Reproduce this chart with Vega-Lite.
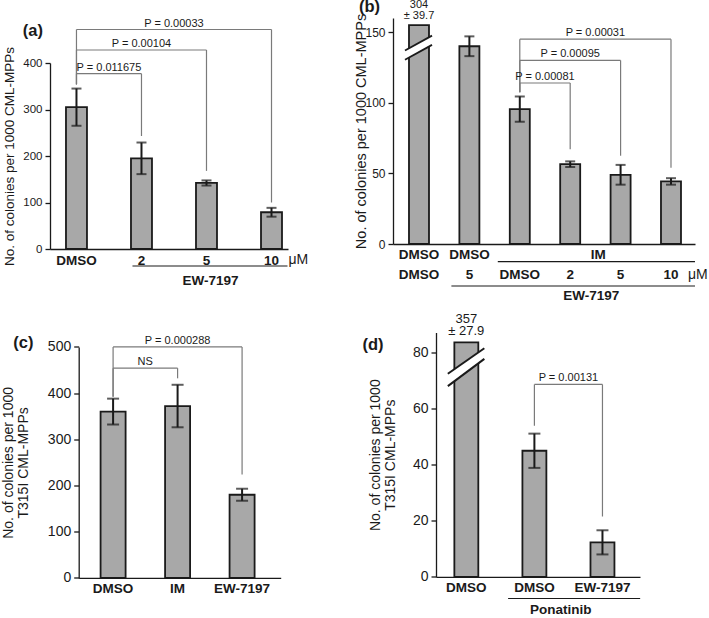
{
  "$schema": "https://vega.github.io/schema/vega-lite/v6.json",
  "padding": {"left": 1, "top": -2, "right": 0, "bottom": 0},
  "background": "white",
  "config": {
    "font": "Liberation Sans",
    "view": {"stroke": null},
    "axis": {"grid": false, "domainColor": "#1a1a1a", "domainWidth": 1.3, "tickColor": "#1a1a1a", "tickWidth": 1.3, "labelColor": "#1a1a1a", "titleColor": "#1a1a1a", "titleFontWeight": "normal"},
    "axisX": {"ticks": false, "labelAngle": 0, "labelFontWeight": "bold", "labelFontSize": 13.5, "labelPadding": 4},
    "axisY": {"tickSize": 5, "labelPadding": 3},
    "title": {"anchor": "start", "frame": "bounds", "fontSize": 16.5, "fontWeight": "bold", "color": "#1a1a1a"},
    "text": {"color": "#1a1a1a"}
  },
  "spacing": 9.5,
  "vconcat": [
    {
      "spacing": 44,
      "hconcat": [
        {
          "title": {"text": "(a)", "dx": 20, "dy": 26},
          "width": 238,
          "height": 231,
          "data": {"values": [
            {"c": "DMSO", "v": 305, "e": 40},
            {"c": "2", "v": 195, "e": 34},
            {"c": "5", "v": 142, "e": 5.5},
            {"c": "10", "v": 79, "e": 9.5}
          ]},
          "layer": [
            {"mark": {"type": "bar", "fill": "#a8a8a8", "stroke": "#1a1a1a", "strokeWidth": 1.8},
             "encoding": {
               "x": {"field": "c", "type": "nominal", "title": null, "scale": {"domain": ["DMSO", "2", "5", "10"], "paddingInner": 0.677, "paddingOuter": 0.169, "align": 0.727}},
               "y": {"field": "v", "type": "quantitative", "title": "No. of colonies per 1000 CML-MPPs", "scale": {"domain": [0, 400], "nice": false, "range": [231, 45]}, "axis": {"values": [0, 100, 200, 300, 400], "labelFontSize": 11.5, "titleFontSize": 13.5, "titlePadding": 6}}
             }},
            {"mark": {"type": "errorbar", "ticks": true, "size": 10, "thickness": 2, "color": "#1a1a1a"},
             "encoding": {"x": {"field": "c", "type": "nominal", "title": null}, "y": {"field": "v", "type": "quantitative", "title": "No. of colonies per 1000 CML-MPPs"}, "yError": {"field": "e"}}},
            {"data": {"values": [
              {"from": "DMSO", "to": "2", "top": 377, "lf": 354, "rf": 243, "lab": "P = 0.011675", "at": "DMSO", "half": true},
              {"from": "DMSO", "to": "5", "top": 428, "lf": 354, "rf": 168, "lab": "P = 0.00104", "at": "2", "half": false},
              {"from": "DMSO", "to": "10", "top": 472, "lf": 354, "rf": 100, "lab": "P = 0.00033", "at": "2", "half": true}
             ]},
             "layer": [
               {"mark": {"type": "rule", "color": "#7a7a7a", "strokeWidth": 1.2}, "encoding": {"x": {"field": "from", "type": "nominal", "title": null}, "x2": {"field": "to"}, "y": {"field": "top", "type": "quantitative", "title": "No. of colonies per 1000 CML-MPPs"}}},
               {"mark": {"type": "rule", "color": "#7a7a7a", "strokeWidth": 1.2}, "encoding": {"x": {"field": "from", "type": "nominal", "title": null}, "y": {"field": "lf", "type": "quantitative", "title": "No. of colonies per 1000 CML-MPPs"}, "y2": {"field": "top"}}},
               {"mark": {"type": "rule", "color": "#7a7a7a", "strokeWidth": 1.2}, "encoding": {"x": {"field": "to", "type": "nominal", "title": null}, "y": {"field": "rf", "type": "quantitative", "title": "No. of colonies per 1000 CML-MPPs"}, "y2": {"field": "top"}}},
               {"transform": [{"filter": "!datum.half"}], "mark": {"type": "text", "dy": -3, "fontSize": 11, "baseline": "alphabetic"}, "encoding": {"x": {"field": "at", "type": "nominal", "title": null}, "y": {"field": "top", "type": "quantitative", "title": "No. of colonies per 1000 CML-MPPs"}, "text": {"field": "lab"}}},
               {"transform": [{"filter": "datum.half"}], "mark": {"type": "text", "dx": 32.5, "dy": -3, "fontSize": 11, "baseline": "alphabetic"}, "encoding": {"x": {"field": "at", "type": "nominal", "title": null}, "y": {"field": "top", "type": "quantitative", "title": "No. of colonies per 1000 CML-MPPs"}, "text": {"field": "lab"}}}
             ]},
            {"data": {"values": [{"c1": "2", "c2": "10"}]},
             "mark": {"type": "rule", "yOffset": 17, "xOffset": -9, "x2Offset": 16, "color": "#1a1a1a", "strokeWidth": 1.2},
             "encoding": {"x": {"field": "c1", "type": "nominal", "title": null}, "x2": {"field": "c2"}, "y": {"datum": 0}}},
            {"data": {"values": [{"c": "5", "t": "EW-7197"}]},
             "mark": {"type": "text", "dx": 4, "dy": 36, "fontWeight": "bold", "fontSize": 13.5, "baseline": "alphabetic"},
             "encoding": {"x": {"field": "c", "type": "nominal", "title": null}, "y": {"datum": 0}, "text": {"field": "t"}}},
            {"data": {"values": [{"c": "10", "t": "μM"}]},
             "mark": {"type": "text", "align": "left", "dx": 17, "dy": 15, "fontSize": 14, "baseline": "alphabetic"},
             "encoding": {"x": {"field": "c", "type": "nominal", "title": null}, "y": {"datum": 0}, "text": {"field": "t"}}}
          ]
        },
        {
          "title": {"text": "(b)", "dx": 5, "dy": 20},
          "width": 302,
          "height": 226,
          "data": {"values": [
            {"c": "b1", "r1": "DMSO", "r2": "DMSO", "h": 155, "note": "304\n± 39.7"},
            {"c": "b2", "r1": "DMSO", "r2": "5", "h": 140, "v": 140, "e": 7},
            {"c": "b3", "r1": "", "r2": "DMSO", "h": 95.5, "v": 95.5, "e": 9},
            {"c": "b4", "r1": "", "r2": "2", "h": 56.5, "v": 56.5, "e": 2},
            {"c": "b5", "r1": "", "r2": "5", "h": 49, "v": 49, "e": 7},
            {"c": "b6", "r1": "", "r2": "10", "h": 44.3, "v": 44.3, "e": 2.3}
          ]},
          "layer": [
            {"mark": {"type": "bar", "fill": "#a8a8a8", "stroke": "#1a1a1a", "strokeWidth": 1.8},
             "encoding": {
               "x": {"field": "c", "type": "nominal", "title": null, "scale": {"domain": ["b1", "b2", "b3", "b4", "b5", "b6"], "paddingInner": 0.603, "paddingOuter": 0.2976, "align": 0.533}, "axis": {"labels": false}},
               "y": {"field": "h", "type": "quantitative", "title": "No. of colonies per 1000 CML-MPPs", "scale": {"domain": [0, 160], "nice": false}, "axis": {"values": [0, 50, 100, 150], "labelFontSize": 12, "titleFontSize": 14.5, "titlePadding": -4}}
             }},
            {"transform": [{"filter": "isValid(datum.e)"}],
             "mark": {"type": "errorbar", "ticks": true, "size": 10, "thickness": 2, "color": "#1a1a1a"},
             "encoding": {"x": {"field": "c", "type": "nominal", "title": null}, "y": {"field": "v", "type": "quantitative", "title": "No. of colonies per 1000 CML-MPPs"}, "yError": {"field": "e"}}},
            {"transform": [{"filter": "isValid(datum.note)"}],
             "mark": {"type": "text", "dy": -15, "fontSize": 11, "baseline": "bottom", "lineBreak": "\n", "lineHeight": 10.5},
             "encoding": {"x": {"field": "c", "type": "nominal", "title": null}, "y": {"field": "h", "type": "quantitative", "title": "No. of colonies per 1000 CML-MPPs"}, "text": {"field": "note"}}},
            {"data": {"values": [{"c": "b1", "lo1": 137, "hi1": 147.5, "lo2": 130.5, "hi2": 141, "lom": 133.7, "him": 144.3}]},
             "layer": [
               {"mark": {"type": "rule", "color": "white", "strokeWidth": 8, "xOffset": -14, "x2Offset": 13}, "encoding": {"x": {"field": "c", "type": "nominal", "title": null}, "x2": {"field": "c"}, "y": {"field": "lom", "type": "quantitative", "title": "No. of colonies per 1000 CML-MPPs"}, "y2": {"field": "him"}}},
               {"mark": {"type": "rule", "color": "#1a1a1a", "strokeWidth": 1.8, "xOffset": -14, "x2Offset": 13}, "encoding": {"x": {"field": "c", "type": "nominal", "title": null}, "x2": {"field": "c"}, "y": {"field": "lo1", "type": "quantitative", "title": "No. of colonies per 1000 CML-MPPs"}, "y2": {"field": "hi1"}}},
               {"mark": {"type": "rule", "color": "#1a1a1a", "strokeWidth": 1.8, "xOffset": -14, "x2Offset": 13}, "encoding": {"x": {"field": "c", "type": "nominal", "title": null}, "x2": {"field": "c"}, "y": {"field": "lo2", "type": "quantitative", "title": "No. of colonies per 1000 CML-MPPs"}, "y2": {"field": "hi2"}}}
             ]},
            {"data": {"values": [
              {"from": "b3", "to": "b4", "top": 114, "lf": 107.5, "rf": 67, "lab": "P = 0.00081", "at": "b3", "half": true},
              {"from": "b3", "to": "b5", "top": 130, "lf": 107.5, "rf": 62.5, "lab": "P = 0.00095", "at": "b4", "half": false},
              {"from": "b3", "to": "b6", "top": 145, "lf": 107.5, "rf": 54, "lab": "P = 0.00031", "at": "b4", "half": true}
             ]},
             "layer": [
               {"mark": {"type": "rule", "color": "#7a7a7a", "strokeWidth": 1.2}, "encoding": {"x": {"field": "from", "type": "nominal", "title": null}, "x2": {"field": "to"}, "y": {"field": "top", "type": "quantitative", "title": "No. of colonies per 1000 CML-MPPs"}}},
               {"mark": {"type": "rule", "color": "#7a7a7a", "strokeWidth": 1.2}, "encoding": {"x": {"field": "from", "type": "nominal", "title": null}, "y": {"field": "lf", "type": "quantitative", "title": "No. of colonies per 1000 CML-MPPs"}, "y2": {"field": "top"}}},
               {"mark": {"type": "rule", "color": "#7a7a7a", "strokeWidth": 1.2}, "encoding": {"x": {"field": "to", "type": "nominal", "title": null}, "y": {"field": "rf", "type": "quantitative", "title": "No. of colonies per 1000 CML-MPPs"}, "y2": {"field": "top"}}},
               {"transform": [{"filter": "!datum.half"}], "mark": {"type": "text", "dy": -3, "fontSize": 11, "baseline": "alphabetic"}, "encoding": {"x": {"field": "at", "type": "nominal", "title": null}, "y": {"field": "top", "type": "quantitative", "title": "No. of colonies per 1000 CML-MPPs"}, "text": {"field": "lab"}}},
               {"transform": [{"filter": "datum.half"}], "mark": {"type": "text", "dx": 25.2, "dy": -3, "fontSize": 11, "baseline": "alphabetic"}, "encoding": {"x": {"field": "at", "type": "nominal", "title": null}, "y": {"field": "top", "type": "quantitative", "title": "No. of colonies per 1000 CML-MPPs"}, "text": {"field": "lab"}}}
             ]},
            {"mark": {"type": "text", "dy": 15, "fontWeight": "bold", "fontSize": 13.5, "baseline": "alphabetic"},
             "encoding": {"x": {"field": "c", "type": "nominal", "title": null}, "y": {"datum": 0}, "text": {"field": "r1"}}},
            {"mark": {"type": "text", "dy": 35, "fontWeight": "bold", "fontSize": 13.5, "baseline": "alphabetic"},
             "encoding": {"x": {"field": "c", "type": "nominal", "title": null}, "y": {"datum": 0}, "text": {"field": "r2"}}},
            {"data": {"values": [{"c1": "b3", "c2": "b6"}]},
             "mark": {"type": "rule", "yOffset": 17.7, "xOffset": -22, "x2Offset": 24, "color": "#1a1a1a", "strokeWidth": 1.2},
             "encoding": {"x": {"field": "c1", "type": "nominal", "title": null}, "x2": {"field": "c2"}, "y": {"datum": 0}}},
            {"data": {"values": [{"c1": "b2", "c2": "b6"}]},
             "mark": {"type": "rule", "yOffset": 42, "xOffset": -18, "x2Offset": 24, "color": "#1a1a1a", "strokeWidth": 1.2},
             "encoding": {"x": {"field": "c1", "type": "nominal", "title": null}, "x2": {"field": "c2"}, "y": {"datum": 0}}},
            {"data": {"values": [{"c": "b4", "t": "IM"}]},
             "mark": {"type": "text", "dx": 28, "dy": 15, "fontWeight": "bold", "fontSize": 13.5, "baseline": "alphabetic"},
             "encoding": {"x": {"field": "c", "type": "nominal", "title": null}, "y": {"datum": 0}, "text": {"field": "t"}}},
            {"data": {"values": [{"c": "b4", "t": "EW-7197"}]},
             "mark": {"type": "text", "dx": 21, "dy": 56, "fontWeight": "bold", "fontSize": 13.5, "baseline": "alphabetic"},
             "encoding": {"x": {"field": "c", "type": "nominal", "title": null}, "y": {"datum": 0}, "text": {"field": "t"}}},
            {"data": {"values": [{"c": "b6", "t": "μM"}]},
             "mark": {"type": "text", "align": "left", "dx": 17, "dy": 35, "fontSize": 14, "baseline": "alphabetic"},
             "encoding": {"x": {"field": "c", "type": "nominal", "title": null}, "y": {"datum": 0}, "text": {"field": "t"}}}
          ]
        }
      ]
    },
    {
      "spacing": 81,
      "hconcat": [
        {
          "title": {"text": "(c)", "dx": 12, "dy": 23},
          "width": 230.7,
          "height": 245.4,
          "data": {"values": [
            {"c": "DMSO", "v": 360, "e": 28},
            {"c": "IM", "v": 372, "e": 46},
            {"c": "EW-7197", "v": 180, "e": 13}
          ]},
          "layer": [
            {"mark": {"type": "bar", "fill": "#a8a8a8", "stroke": "#1a1a1a", "strokeWidth": 1.8},
             "encoding": {
               "x": {"field": "c", "type": "nominal", "title": null, "scale": {"domain": ["DMSO", "IM", "EW-7197"], "paddingInner": 0.612, "paddingOuter": 0.372, "align": 0.456, "range": [28.7, 230.7]}},
               "y": {"field": "v", "type": "quantitative", "title": ["No. of colonies per 1000", "T315I CML-MPPs"], "scale": {"domain": [0, 500], "nice": false, "range": [245.4, 14.4]}, "axis": {"values": [0, 100, 200, 300, 400, 500], "offset": -28.7, "labelFontSize": 14, "titleFontSize": 14, "titleLineHeight": 15, "titlePadding": 17}}
             }},
            {"mark": {"type": "errorbar", "ticks": true, "size": 12, "thickness": 2, "color": "#1a1a1a"},
             "encoding": {"x": {"field": "c", "type": "nominal", "title": null}, "y": {"field": "v", "type": "quantitative", "title": ["No. of colonies per 1000", "T315I CML-MPPs"]}, "yError": {"field": "e"}}},
            {"data": {"values": [
              {"from": "DMSO", "to": "IM", "top": 454, "lf": 392, "rf": 432, "lab": "NS", "at": "DMSO", "half": true},
              {"from": "DMSO", "to": "EW-7197", "top": 500, "lf": 392, "rf": 224, "lab": "P = 0.000288", "at": "IM", "half": false}
             ]},
             "layer": [
               {"mark": {"type": "rule", "color": "#7a7a7a", "strokeWidth": 1.2}, "encoding": {"x": {"field": "from", "type": "nominal", "title": null}, "x2": {"field": "to"}, "y": {"field": "top", "type": "quantitative", "title": ["No. of colonies per 1000", "T315I CML-MPPs"]}}},
               {"mark": {"type": "rule", "color": "#7a7a7a", "strokeWidth": 1.2}, "encoding": {"x": {"field": "from", "type": "nominal", "title": null}, "y": {"field": "lf", "type": "quantitative", "title": ["No. of colonies per 1000", "T315I CML-MPPs"]}, "y2": {"field": "top"}}},
               {"mark": {"type": "rule", "color": "#7a7a7a", "strokeWidth": 1.2}, "encoding": {"x": {"field": "to", "type": "nominal", "title": null}, "y": {"field": "rf", "type": "quantitative", "title": ["No. of colonies per 1000", "T315I CML-MPPs"]}, "y2": {"field": "top"}}},
               {"transform": [{"filter": "!datum.half"}], "mark": {"type": "text", "dy": -3, "fontSize": 11, "baseline": "alphabetic"}, "encoding": {"x": {"field": "at", "type": "nominal", "title": null}, "y": {"field": "top", "type": "quantitative", "title": ["No. of colonies per 1000", "T315I CML-MPPs"]}, "text": {"field": "lab"}}},
               {"transform": [{"filter": "datum.half"}], "mark": {"type": "text", "dx": 32, "dy": -3, "fontSize": 11, "baseline": "alphabetic"}, "encoding": {"x": {"field": "at", "type": "nominal", "title": null}, "y": {"field": "top", "type": "quantitative", "title": ["No. of colonies per 1000", "T315I CML-MPPs"]}, "text": {"field": "lab"}}}
             ]}
          ]
        },
        {
          "title": {"text": "(d)", "dx": -6, "dy": 44},
          "width": 204,
          "height": 244.4,
          "data": {"values": [
            {"c": "d1", "h": 83.5, "note": "357\n± 27.9"},
            {"c": "d2", "h": 44.9, "v": 44.9, "e": 6.1},
            {"c": "d3", "h": 12.3, "v": 12.3, "e": 4.3}
          ]},
          "layer": [
            {"mark": {"type": "bar", "fill": "#a8a8a8", "stroke": "#1a1a1a", "strokeWidth": 1.8},
             "encoding": {
               "x": {"field": "c", "type": "nominal", "title": null, "scale": {"domain": ["d1", "d2", "d3"], "paddingInner": 0.648, "paddingOuter": 0.3226, "align": 0.418}, "axis": {"labelExpr": "datum.value == 'd3' ? 'EW-7197' : 'DMSO'"}},
               "y": {"field": "h", "type": "quantitative", "title": ["No. of colonies per 1000", "T315I CML-MPPs"], "scale": {"domain": [0, 87], "nice": false}, "axis": {"values": [0, 20, 40, 60, 80], "labelFontSize": 14, "titleFontSize": 14, "titleLineHeight": 15, "titlePadding": 15}}
             }},
            {"transform": [{"filter": "isValid(datum.e)"}],
             "mark": {"type": "errorbar", "ticks": true, "size": 12, "thickness": 2, "color": "#1a1a1a"},
             "encoding": {"x": {"field": "c", "type": "nominal", "title": null}, "y": {"field": "v", "type": "quantitative", "title": ["No. of colonies per 1000", "T315I CML-MPPs"]}, "yError": {"field": "e"}}},
            {"transform": [{"filter": "isValid(datum.note)"}],
             "mark": {"type": "text", "dy": -16, "fontSize": 13, "baseline": "bottom", "lineBreak": "\n", "lineHeight": 12},
             "encoding": {"x": {"field": "c", "type": "nominal", "title": null}, "y": {"field": "h", "type": "quantitative", "title": ["No. of colonies per 1000", "T315I CML-MPPs"]}, "text": {"field": "note"}}},
            {"data": {"values": [{"c": "d1", "lo1": 72.3, "hi1": 81.4, "lo2": 67.9, "hi2": 77.6, "lom": 70.1, "him": 79.5}]},
             "layer": [
               {"mark": {"type": "rule", "color": "white", "strokeWidth": 9, "xOffset": -18.5, "x2Offset": 18}, "encoding": {"x": {"field": "c", "type": "nominal", "title": null}, "x2": {"field": "c"}, "y": {"field": "lom", "type": "quantitative", "title": ["No. of colonies per 1000", "T315I CML-MPPs"]}, "y2": {"field": "him"}}},
               {"mark": {"type": "rule", "color": "#1a1a1a", "strokeWidth": 2, "xOffset": -18.5, "x2Offset": 18}, "encoding": {"x": {"field": "c", "type": "nominal", "title": null}, "x2": {"field": "c"}, "y": {"field": "lo1", "type": "quantitative", "title": ["No. of colonies per 1000", "T315I CML-MPPs"]}, "y2": {"field": "hi1"}}},
               {"mark": {"type": "rule", "color": "#1a1a1a", "strokeWidth": 2, "xOffset": -18.5, "x2Offset": 18}, "encoding": {"x": {"field": "c", "type": "nominal", "title": null}, "x2": {"field": "c"}, "y": {"field": "lo2", "type": "quantitative", "title": ["No. of colonies per 1000", "T315I CML-MPPs"]}, "y2": {"field": "hi2"}}}
             ]},
            {"data": {"values": [
              {"from": "d2", "to": "d3", "top": 68.5, "lf": 53.8, "rf": 21.5, "lab": "P = 0.00131", "at": "d2"}
             ]},
             "layer": [
               {"mark": {"type": "rule", "color": "#7a7a7a", "strokeWidth": 1.2}, "encoding": {"x": {"field": "from", "type": "nominal", "title": null}, "x2": {"field": "to"}, "y": {"field": "top", "type": "quantitative", "title": ["No. of colonies per 1000", "T315I CML-MPPs"]}}},
               {"mark": {"type": "rule", "color": "#7a7a7a", "strokeWidth": 1.2}, "encoding": {"x": {"field": "from", "type": "nominal", "title": null}, "y": {"field": "lf", "type": "quantitative", "title": ["No. of colonies per 1000", "T315I CML-MPPs"]}, "y2": {"field": "top"}}},
               {"mark": {"type": "rule", "color": "#7a7a7a", "strokeWidth": 1.2}, "encoding": {"x": {"field": "to", "type": "nominal", "title": null}, "y": {"field": "rf", "type": "quantitative", "title": ["No. of colonies per 1000", "T315I CML-MPPs"]}, "y2": {"field": "top"}}},
               {"mark": {"type": "text", "dx": 34, "dy": -3, "fontSize": 11, "baseline": "alphabetic"}, "encoding": {"x": {"field": "at", "type": "nominal", "title": null}, "y": {"field": "top", "type": "quantitative", "title": ["No. of colonies per 1000", "T315I CML-MPPs"]}, "text": {"field": "lab"}}}
             ]},
            {"data": {"values": [{"c1": "d2", "c2": "d3"}]},
             "mark": {"type": "rule", "yOffset": 21.6, "xOffset": -26.3, "x2Offset": 37.7, "color": "#1a1a1a", "strokeWidth": 1.2},
             "encoding": {"x": {"field": "c1", "type": "nominal", "title": null}, "x2": {"field": "c2"}, "y": {"datum": 0}}},
            {"data": {"values": [{"c": "d2", "t": "Ponatinib"}]},
             "mark": {"type": "text", "dx": 26.4, "dy": 37.5, "fontWeight": "bold", "fontSize": 13.5, "baseline": "alphabetic"},
             "encoding": {"x": {"field": "c", "type": "nominal", "title": null}, "y": {"datum": 0}, "text": {"field": "t"}}}
          ]
        }
      ]
    }
  ]
}
